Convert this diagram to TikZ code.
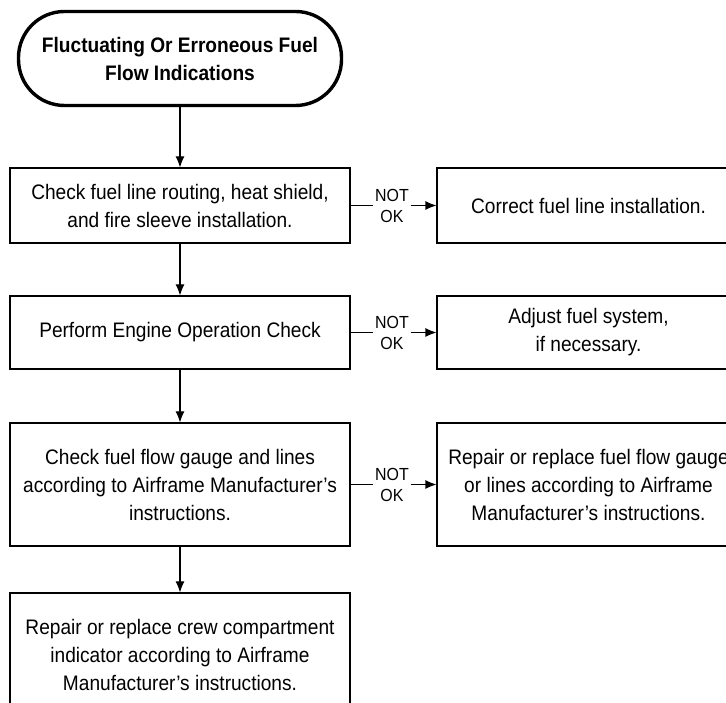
\documentclass[tikz,border=0pt]{standalone}
\usepackage{fontspec}
\setmainfont{Liberation Sans}[FakeStretch=0.91]
\usepackage{tikz}
\usetikzlibrary{arrows.meta,positioning}

\begin{document}
\begin{tikzpicture}[>={Latex[length=11pt,width=9pt]}, x=1pt, y=1pt,
		box/.style={draw, line width=1.1pt, align=center, inner sep=2pt,
			font=\fontsize{21}{28}\selectfont},
		term/.style={draw, line width=3.4pt, rounded corners=46pt, align=center,
			minimum width=323pt, minimum height=94pt,
			font=\fontsize{21}{28}\selectfont\bfseries},
		nok/.style={align=center, inner xsep=1.5pt, inner ysep=0pt,
			font=\fontsize{17.5}{21}\selectfont},
		link/.style={line width=1.1pt}]
		% 1. Page frame (right boxes and last box run off the edge)
		\useasboundingbox (0,0) rectangle (726,702);

		% 2. Start terminal
		\node[term] (start) at (180,643.5) {Fluctuating Or Erroneous Fuel\\Flow Indications};

		% 3. Checks down the left
		\node[box, minimum width=340pt, minimum height=75pt] (chk1) at (180,496.5)
			{Check fuel line routing, heat shield,\\and fire sleeve installation.};
		\node[box, minimum width=340pt, minimum height=73pt] (chk2) at (180,369.5)
			{Perform Engine Operation Check};
		\node[box, minimum width=340pt, minimum height=123pt] (chk3) at (180,217.5)
			{Check fuel flow gauge and lines\\according to Airframe Manufacturer's\\instructions.};
		\node[box, minimum width=340pt, minimum height=123pt] (chk4) at (180,47.5)
			{Repair or replace crew compartment\\indicator according to Airframe\\Manufacturer's instructions.};

		% 4. Fixes on the right
		\node[box, minimum width=303pt, minimum height=75pt] (fix1) at (588.5,496.5)
			{Correct fuel line installation.};
		\node[box, minimum width=303pt, minimum height=73pt] (fix2) at (588.5,369.5)
			{Adjust fuel system,\\if necessary.};
		\node[box, minimum width=303pt, minimum height=123pt] (fix3) at (588.5,217.5)
			{Repair or replace fuel flow gauge\\or lines according to Airframe\\Manufacturer's instructions.};

		% 5. NOT OK labels
		\node[nok] (nok1) at (392,496.5) {NOT\\OK};
		\node[nok] (nok2) at (392,369.5) {NOT\\OK};
		\node[nok] (nok3) at (392,217.5) {NOT\\OK};

		% 6. Flow down
		\draw[->, link] (start) -- (chk1);
		\draw[->, link] (chk1) -- (chk2);
		\draw[->, link] (chk2) -- (chk3);
		\draw[->, link] (chk3) -- (chk4);

		% 7. Branches to the right
		\draw[link] (chk1.east) -- (nok1.west);
		\draw[->, link] (nok1.east) -- (fix1.west);
		\draw[link] (chk2.east) -- (nok2.west);
		\draw[->, link] (nok2.east) -- (fix2.west);
		\draw[link] (chk3.east) -- (nok3.west);
		\draw[->, link] (nok3.east) -- (fix3.west);
	\end{tikzpicture}
\end{document}
